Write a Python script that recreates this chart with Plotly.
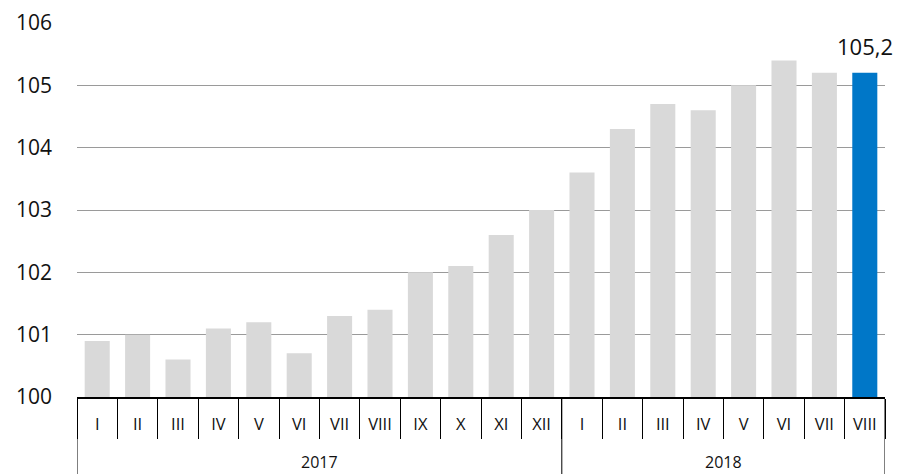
import plotly.graph_objects as go

years = ["2017"] * 12 + ["2018"] * 8
months = ["I", "II", "III", "IV", "V", "VI", "VII", "VIII", "IX", "X", "XI", "XII",
          "I", "II", "III", "IV", "V", "VI", "VII", "VIII"]
values = [100.9, 101.0, 100.6, 101.1, 101.2, 100.7, 101.3, 101.4, 102.0, 102.1, 102.6, 103.0,
          103.6, 104.3, 104.7, 104.6, 105.0, 105.4, 105.2, 105.2]
y_ticks = [100, 101, 102, 103, 104, 105, 106]

grey = "#d9d9d9"
blue = "#0077c8"
FONT = "Open Sans"
TXT = "#111111"

n = len(values)
xpos = list(range(n))
colors = [grey] * (n - 1) + [blue]
last_label = f"{values[-1]:.1f}".replace(".", ",")

L, R, T, B = 77, 15, 23, 77
H = 474
plot_h = H - T - B

fig = go.Figure(go.Bar(
    x=xpos,
    y=[v - 100 for v in values],
    base=100,
    marker=dict(color=colors, line=dict(width=0)),
    cliponaxis=False,
    hoverinfo="skip",
))

# year groups: dividers and labels
groups = []
start = 0
for i in range(1, n + 1):
    if i == n or years[i] != years[start]:
        groups.append((years[start], start, i - 1))
        start = i

shapes = []
annotations = []
div_x = sorted({g[1] - 0.5 for g in groups} | {g[2] + 0.5 for g in groups})
for dx in div_x:
    shapes.append(dict(type="line", xref="x", yref="paper", x0=dx, x1=dx,
                       y0=0, y1=-(B) / plot_h, line=dict(color="#000000", width=1)))
for name, a, b in groups:
    annotations.append(dict(x=(a + b) / 2, y=-65 / plot_h, xref="x", yref="paper",
                            text=name, showarrow=False, yanchor="middle",
                            font=dict(size=16, family=FONT, color=TXT)))
annotations.append(dict(x=xpos[-1], y=values[-1], xref="x", yref="y",
                        text=last_label, showarrow=False, yanchor="bottom", yshift=10,
                        font=dict(size=22, family=FONT, color=TXT)))

fig.update_layout(
    width=900, height=H,
    margin=dict(l=L, r=R, t=T, b=B, autoexpand=False),
    paper_bgcolor="white", plot_bgcolor="white",
    bargap=0.38,
    showlegend=False,
    font=dict(family=FONT, color=TXT),
    shapes=shapes,
    annotations=annotations,
)
fig.update_xaxes(
    range=[-0.5, n - 0.5],
    tickvals=xpos, ticktext=months,
    ticks="", ticklabelstandoff=11,
    tickfont=dict(size=16.5, family=FONT, color=TXT),
    showline=True, linecolor="#000000", linewidth=1.5,
    showgrid=False, zeroline=False,
    minor=dict(tickvals=[i - 0.5 for i in range(n + 1)], ticks="outside",
               ticklen=40, tickcolor="#000000", tickwidth=1, showgrid=False),
    automargin=False,
)
fig.update_yaxes(
    range=[100, 106],
    tickvals=y_ticks,
    ticktext=[str(t) for t in y_ticks],
    showgrid=True, gridcolor="#9a9a9a", gridwidth=1,
    zeroline=False, showline=False,
    ticks="", ticklabelstandoff=24,
    tickfont=dict(size=21, family=FONT, color=TXT),
    automargin=False,
)

fig.write_html("out.html", config={"displayModeBar": False},
               post_script="document.body.style.margin='0';")
